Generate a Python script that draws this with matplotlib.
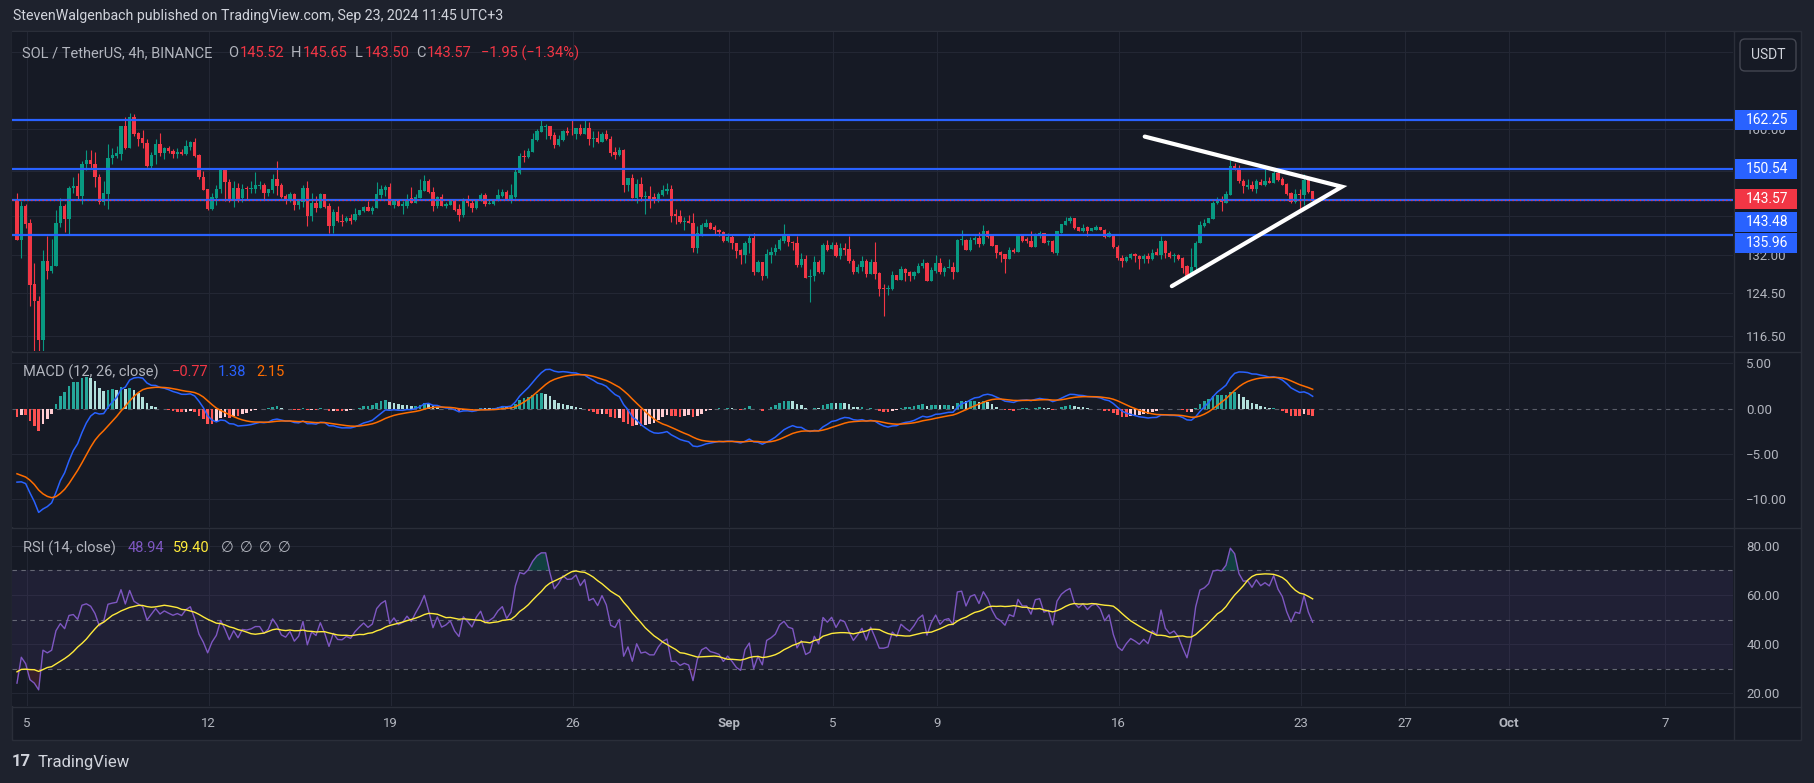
import numpy as np
import pandas as pd
import matplotlib
matplotlib.use('Agg')
import matplotlib.pyplot as plt
from matplotlib.lines import Line2D
from matplotlib.patches import Rectangle, FancyBboxPatch
from matplotlib.transforms import IdentityTransform
from matplotlib.ticker import FuncFormatter, NullLocator

plt.rcParams['font.family'] = ['Roboto', 'DejaVu Sans']

# SOL/USDT 4h candles, Binance, times in UTC+3 (first candle opens at t0)
t0 = pd.Timestamp('2024-08-04 15:00')

opens = [
    143.7, 135.1, 142.2, 138.5, 126.3, 123.0, 115.9, 130.7, 128.7, 129.8,
    138.6, 142.2, 139.4, 146.2, 146.7, 144.4, 151.6, 152.6, 151.8, 148.6,
    143.1, 144.8, 153.1, 153.6, 154.0, 160.7, 155.5, 163.1, 159.0, 157.9,
    156.7, 151.2, 153.7, 156.3, 154.2, 155.5, 154.8, 154.0, 154.6, 154.0,
    155.7, 156.8, 153.8, 148.8, 145.9, 141.5, 144.1, 145.9, 150.5, 147.6,
    143.7, 146.3, 143.9, 146.2, 145.9, 145.9, 146.6, 146.8, 145.0, 145.8,
    148.2, 146.8, 144.4, 143.7, 144.8, 142.4, 143.2, 146.2, 140.1, 142.9,
    141.9, 144.8, 142.2, 137.9, 140.9, 139.1, 139.0, 139.6, 139.2, 140.3,
    141.2, 142.1, 141.2, 141.7, 144.6, 145.8, 146.5, 142.4, 143.5, 142.3,
    142.3, 144.1, 142.8, 144.1, 145.5, 147.7, 145.4, 142.2, 144.2, 142.2,
    142.5, 143.3, 141.5, 140.3, 143.7, 143.0, 141.8, 143.5, 144.6, 142.6,
    142.6, 143.5, 144.4, 145.3, 143.6, 144.3, 149.7, 153.6, 153.4, 154.5,
    157.3, 159.4, 160.6, 160.8, 158.5, 156.1, 157.3, 159.6, 159.4, 158.8,
    160.2, 158.9, 160.3, 157.5, 157.9, 156.9, 158.8, 157.7, 154.5, 153.8,
    155.1, 146.8, 148.4, 143.9, 147.2, 144.2, 144.4, 144.2, 143.5, 144.6,
    145.5, 146.1, 140.4, 140.1, 138.9, 139.1, 138.6, 133.3, 136.1, 137.8,
    138.5, 137.7, 137.2, 136.7, 134.9, 135.6, 134.3, 132.9, 131.9, 134.3,
    135.4, 128.6, 130.5, 127.7, 132.0, 132.5, 133.1, 134.9, 135.8, 134.6,
    134.5, 129.9, 131.1, 127.6, 127.8, 130.5, 128.6, 134.0, 133.1, 134.0,
    131.7, 133.3, 133.1, 130.8, 128.6, 129.6, 130.8, 128.1, 130.5, 128.3,
    125.4, 125.2, 125.2, 127.9, 126.9, 129.1, 128.6, 127.7, 128.3, 129.7,
    130.3, 126.8, 128.7, 130.3, 128.6, 129.4, 129.6, 128.6, 135.1, 135.1,
    132.9, 135.0, 135.4, 134.1, 136.8, 135.8, 134.0, 132.5, 132.1, 131.1,
    133.0, 132.6, 135.8, 135.3, 134.9, 133.6, 136.1, 136.4, 134.6, 134.8,
    132.4, 136.5, 138.1, 139.1, 139.6, 137.7, 136.9, 137.7, 136.8, 137.2,
    137.7, 137.2, 135.6, 136.2, 133.6, 131.4, 130.7, 131.4, 132.1, 131.7,
    131.1, 131.7, 131.1, 132.5, 131.9, 134.8, 132.4, 131.7, 131.9, 131.4,
    129.7, 127.8, 129.6, 134.3, 137.9, 138.6, 139.4, 143.0, 143.4, 143.0,
    144.6, 151.2, 150.8, 147.9, 146.5, 146.8, 145.9, 147.6, 147.0, 147.7,
    147.3, 149.7, 148.2, 147.2, 145.0, 143.2, 144.9, 144.6, 148.0, 145.52,
]
highs = [
    145.2, 143.3, 142.6, 139.5, 130.4, 123.9, 132.9, 135.8, 135.3, 141.3,
    144.1, 142.6, 146.7, 148.6, 149.7, 152.4, 155.1, 155.1, 154.6, 149.5,
    147.7, 156.5, 155.5, 155.9, 160.9, 162.9, 164.0, 163.7, 159.3, 159.8,
    157.5, 154.4, 157.5, 159.0, 155.8, 156.0, 155.2, 155.5, 155.3, 157.3,
    157.1, 157.9, 154.0, 150.1, 146.0, 145.0, 147.0, 150.8, 150.8, 148.3,
    147.7, 147.4, 147.2, 146.7, 147.7, 149.9, 147.9, 147.4, 145.9, 149.3,
    152.3, 147.4, 144.8, 145.4, 145.0, 143.5, 146.8, 147.7, 145.0, 144.5,
    145.0, 144.9, 142.8, 141.5, 142.2, 140.4, 140.1, 140.4, 141.9, 141.4,
    142.2, 143.4, 142.2, 147.6, 146.8, 146.8, 147.3, 143.7, 143.6, 143.3,
    144.8, 146.4, 144.8, 148.2, 149.1, 148.2, 146.5, 144.4, 144.8, 143.2,
    143.7, 143.7, 142.6, 143.9, 144.6, 143.8, 143.7, 145.1, 145.1, 143.7,
    143.7, 145.9, 146.1, 145.8, 147.1, 150.5, 154.2, 154.9, 155.5, 159.0,
    160.0, 162.3, 161.2, 160.9, 159.2, 158.6, 159.9, 160.6, 162.2, 160.4,
    161.2, 162.3, 161.9, 159.6, 159.5, 159.4, 159.7, 158.3, 155.8, 155.7,
    155.2, 148.4, 149.5, 148.2, 148.6, 145.6, 146.6, 145.2, 145.3, 147.0,
    147.4, 147.0, 141.5, 141.3, 139.9, 140.2, 140.8, 138.0, 138.6, 139.4,
    138.9, 138.1, 137.4, 136.9, 136.4, 136.0, 134.5, 133.2, 134.9, 136.2,
    136.4, 130.9, 130.5, 133.1, 133.6, 134.1, 135.5, 138.3, 136.2, 134.8,
    135.8, 132.4, 132.0, 129.1, 131.7, 130.9, 134.4, 135.1, 134.7, 134.6,
    134.5, 134.3, 135.8, 131.2, 130.1, 131.7, 131.2, 131.2, 134.6, 128.6,
    126.2, 126.0, 128.7, 128.0, 129.7, 129.3, 128.7, 128.7, 130.4, 131.1,
    130.6, 129.5, 131.9, 131.4, 129.7, 131.2, 130.6, 135.2, 137.2, 135.3,
    135.6, 135.8, 136.7, 138.1, 137.1, 135.9, 134.0, 132.7, 132.2, 133.6,
    133.3, 136.0, 136.3, 135.6, 136.9, 136.5, 136.8, 136.5, 135.1, 135.0,
    136.8, 138.4, 139.8, 140.1, 139.7, 137.7, 138.3, 137.9, 137.6, 138.2,
    137.8, 137.4, 136.8, 136.2, 133.9, 132.0, 131.7, 132.4, 132.4, 132.0,
    132.1, 132.4, 133.1, 133.4, 135.8, 135.1, 132.7, 132.4, 132.2, 131.5,
    129.9, 133.3, 134.8, 139.0, 139.4, 139.7, 143.3, 144.2, 144.4, 145.5,
    152.6, 151.9, 151.4, 148.3, 148.2, 147.8, 148.2, 148.3, 150.7, 148.8,
    150.1, 150.1, 148.8, 147.4, 145.3, 145.9, 145.9, 149.3, 148.3, 145.65,
]
lows = [
    135.0, 131.4, 137.6, 122.1, 112.0, 110.1, 113.0, 127.2, 128.4, 129.7,
    137.8, 136.7, 136.2, 145.0, 143.7, 142.6, 150.3, 150.8, 146.5, 142.6,
    142.5, 141.5, 151.6, 153.2, 152.7, 155.3, 155.5, 158.3, 155.9, 155.4,
    151.1, 150.8, 151.6, 153.6, 152.8, 154.2, 153.1, 153.2, 153.9, 153.9,
    154.9, 153.4, 148.2, 145.7, 141.4, 141.4, 142.5, 145.2, 143.3, 143.1,
    142.1, 143.1, 143.1, 143.7, 145.0, 145.0, 145.9, 143.7, 144.4, 145.2,
    144.6, 143.9, 142.6, 143.2, 141.4, 141.5, 142.1, 137.9, 139.0, 141.0,
    141.8, 141.9, 136.4, 136.4, 138.8, 137.9, 138.8, 138.3, 139.1, 140.2,
    141.0, 141.2, 140.6, 141.7, 144.1, 144.4, 142.4, 141.8, 142.2, 140.4,
    141.9, 142.8, 142.8, 144.1, 145.5, 145.2, 141.2, 141.9, 142.2, 141.8,
    142.4, 141.2, 139.0, 139.8, 142.2, 141.0, 141.5, 143.3, 142.2, 142.6,
    142.5, 143.3, 144.3, 143.5, 142.8, 144.0, 149.5, 152.2, 153.2, 154.4,
    157.1, 159.2, 157.5, 157.5, 155.4, 155.9, 157.1, 158.6, 158.6, 157.5,
    158.6, 158.8, 156.2, 155.7, 156.6, 156.9, 157.3, 153.6, 152.8, 153.6,
    145.4, 145.5, 143.9, 142.8, 143.3, 140.6, 141.8, 143.0, 143.2, 144.4,
    144.8, 138.8, 138.3, 138.5, 137.2, 138.5, 132.6, 132.3, 135.8, 137.7,
    137.4, 136.0, 135.8, 134.6, 134.6, 133.1, 131.4, 130.2, 130.4, 132.3,
    128.0, 128.5, 127.0, 127.4, 130.3, 131.9, 132.9, 134.3, 133.8, 132.9,
    129.6, 129.6, 127.3, 122.8, 126.8, 128.4, 128.2, 132.7, 133.1, 131.5,
    131.1, 132.0, 130.4, 128.1, 128.3, 128.8, 127.6, 128.1, 127.1, 123.9,
    120.2, 124.2, 125.1, 126.9, 126.9, 126.7, 126.7, 127.1, 128.3, 129.4,
    126.8, 126.8, 128.4, 128.1, 127.8, 129.3, 127.1, 128.5, 133.9, 132.9,
    132.7, 134.1, 133.6, 133.9, 135.5, 133.7, 131.4, 130.5, 128.4, 131.1,
    132.4, 132.5, 134.7, 134.4, 133.6, 133.6, 135.5, 134.5, 134.0, 132.4,
    132.0, 136.4, 138.1, 138.6, 137.4, 136.9, 136.7, 135.8, 136.8, 137.1,
    137.1, 135.5, 135.6, 133.4, 130.9, 129.6, 130.6, 131.2, 130.6, 129.2,
    130.3, 130.4, 130.9, 131.9, 131.2, 131.4, 131.4, 130.6, 130.9, 128.4,
    127.4, 127.8, 128.6, 134.3, 137.8, 138.5, 139.4, 142.6, 141.2, 142.8,
    144.6, 150.3, 147.4, 145.2, 145.9, 145.5, 145.0, 146.8, 146.7, 147.3,
    147.3, 147.8, 146.8, 144.6, 142.8, 143.0, 141.4, 142.4, 145.2, 143.50,
]
closes = [
    135.1, 142.2, 138.3, 126.1, 122.9, 115.9, 130.7, 128.7, 129.8, 138.6,
    142.2, 139.4, 146.2, 146.7, 144.4, 151.8, 152.6, 151.6, 148.6, 143.1,
    145.0, 153.2, 153.8, 154.2, 160.8, 155.5, 163.1, 158.8, 157.7, 156.7,
    151.2, 153.7, 156.3, 154.2, 155.5, 154.7, 154.0, 154.6, 154.0, 155.9,
    156.8, 153.6, 148.7, 145.8, 141.5, 144.3, 146.1, 150.5, 147.6, 143.7,
    146.3, 143.7, 146.1, 145.9, 146.2, 146.8, 146.8, 145.0, 145.9, 148.2,
    146.7, 144.3, 143.7, 144.8, 142.4, 143.3, 146.2, 140.1, 142.9, 141.9,
    144.8, 142.0, 137.9, 140.9, 139.0, 138.9, 139.6, 139.1, 140.4, 141.3,
    142.1, 141.2, 141.8, 144.8, 145.9, 146.5, 142.4, 143.5, 142.2, 142.6,
    143.7, 142.8, 144.3, 145.7, 147.7, 145.3, 142.2, 144.2, 142.2, 142.6,
    143.3, 141.4, 140.3, 143.7, 142.8, 141.8, 143.5, 144.6, 142.6, 143.0,
    143.5, 144.6, 145.3, 143.6, 144.6, 149.8, 153.6, 153.4, 154.7, 157.5,
    159.6, 160.8, 160.8, 158.3, 156.1, 157.5, 159.6, 159.1, 159.2, 160.2,
    158.9, 160.3, 157.5, 157.9, 156.9, 158.8, 157.5, 154.2, 153.8, 155.1,
    146.8, 148.4, 143.9, 147.2, 144.2, 144.4, 143.5, 143.5, 144.8, 145.7,
    146.1, 140.1, 140.1, 138.8, 139.1, 138.6, 133.3, 136.5, 138.1, 138.5,
    137.4, 137.1, 136.7, 134.9, 135.6, 134.3, 132.7, 131.9, 134.5, 135.4,
    128.6, 130.5, 127.8, 132.1, 132.6, 133.3, 135.1, 135.8, 134.6, 134.3,
    129.9, 131.1, 127.4, 127.8, 130.5, 128.6, 134.0, 132.9, 134.0, 131.7,
    133.3, 132.9, 130.7, 128.6, 129.6, 130.8, 128.1, 130.5, 128.1, 125.2,
    125.2, 125.4, 127.9, 126.9, 129.1, 128.3, 127.7, 128.6, 129.8, 130.4,
    126.8, 128.9, 130.3, 128.6, 129.4, 129.6, 128.6, 135.1, 135.3, 132.9,
    135.1, 135.5, 134.1, 136.8, 135.7, 133.8, 132.4, 131.9, 131.1, 132.9,
    132.6, 135.8, 134.8, 134.8, 133.6, 136.2, 136.4, 134.5, 134.8, 132.6,
    136.8, 138.3, 139.1, 139.6, 137.6, 136.9, 137.6, 136.8, 137.5, 137.7,
    137.1, 135.6, 136.4, 133.6, 131.4, 130.7, 131.5, 132.1, 131.7, 131.2,
    131.7, 131.1, 132.4, 131.9, 134.8, 132.4, 131.6, 131.9, 131.1, 129.4,
    127.6, 129.6, 134.5, 138.1, 138.6, 139.6, 143.0, 143.3, 143.2, 144.8,
    151.2, 150.5, 147.8, 146.7, 146.8, 145.9, 147.8, 147.0, 147.7, 147.3,
    149.7, 148.0, 147.0, 144.8, 143.1, 144.8, 144.6, 148.0, 145.4, 143.57,
]
# closes before the visible window (Jul 28 - Aug 4), they only feed MACD / RSI
warmup_closes = [
    183, 185, 186, 188,
    190, 192, 189, 186, 184, 183,
    181, 180, 178, 180, 179, 178,
    180, 182, 181, 178, 175, 174,
    172, 168, 165, 166, 169, 170,
    168, 163, 160, 156, 160, 157,
    153, 156, 151, 148, 152, 149,
    151, 147, 149, 145,
]

levels = [162.25, 150.54, 143.48, 135.96]
last_close = 143.57
tri_times = ['2024-09-17 00:00', '2024-09-24 14:00', '2024-09-18 01:00']
tri_prices = [158.2, 146.5, 125.8]

date_ticks = ['2024-08-05', '2024-08-12', '2024-08-19', '2024-08-26', '2024-09-01',
              '2024-09-05', '2024-09-09', '2024-09-16', '2024-09-23', '2024-09-27',
              '2024-10-01', '2024-10-07']
date_labels = ['5', '12', '19', '26', 'Sep', '5', '9', '16', '23', '27', 'Oct', '7']
price_ticks = [116.5, 124.5, 132.0, 140.0, 150.0, 160.0, 180.0]
hidden_price_ticks = [140.0, 150.0, 180.0]   # covered by the price labels / USDT button
macd_ticks = [-10, -5, 5]
rsi_ticks = [20, 40, 60, 80]

# colours
OUTER = '#1e222d'
BG = '#161a25'
GRID = '#232734'
BORDER = '#2a2e39'
TXT = '#b2b5be'
UP = '#089981'
DN = '#f23645'
BLUE = '#2962ff'

O = np.array(opens); Hh = np.array(highs); Lw = np.array(lows); C = np.array(closes)
x = np.arange(len(C))


def tx(ts):
    return (pd.Timestamp(ts) - t0) / pd.Timedelta('4h')


# indicators
allc = pd.Series(warmup_closes + closes, dtype=float)
ema12 = allc.ewm(span=12, adjust=False).mean()
ema26 = allc.ewm(span=26, adjust=False).mean()
macd = ema12 - ema26
signal = macd.ewm(span=9, adjust=False).mean()
hist = macd - signal
hist_prev = hist.shift(1)
delta = allc.diff().fillna(0)
gain = delta.clip(lower=0).ewm(alpha=1 / 14, adjust=False).mean()
loss = (-delta.clip(upper=0)).ewm(alpha=1 / 14, adjust=False).mean()
rsi = 100 - 100 / (1 + gain / loss)
rsi_ma = rsi.rolling(14).mean()
n0 = len(warmup_closes)
macd_v = macd.values[n0:]
sig_v = signal.values[n0:]
hist_v = hist.values[n0:]
hprev = hist_prev.values[n0:]
rsi_v = rsi.values[n0:]
rsima_v = rsi_ma.values[n0:]

# layout (pixels)
W, H = 1814, 783
fig = plt.figure(figsize=(W / 100, H / 100), dpi=100, facecolor=OUTER)
PIX = IdentityTransform()


def rect(left, top, right, bottom):
    return [left / W, 1 - bottom / H, (right - left) / W, (bottom - top) / H]


def T(px, py, s, **kw):
    kw.setdefault('fontsize', 10.5)
    kw.setdefault('va', 'center')
    return fig.text(px, H - py, s, transform=PIX, **kw)


def hline(x0, x1, y, color=BORDER, lw=1, z=3):
    fig.add_artist(Line2D([x0, x1], [H - y, H - y], color=color, lw=lw, transform=PIX, zorder=z))


def vline(xp, y0, y1, color=BORDER, lw=1, z=3):
    fig.add_artist(Line2D([xp, xp], [H - y0, H - y1], color=color, lw=lw, transform=PIX, zorder=z))


fig.add_artist(Rectangle((12, H - 740), 1789, 709, transform=PIX, facecolor=BG,
                         edgecolor=BORDER, lw=1, zorder=-10))

LX, RX = 12, 1733
ax_p = fig.add_axes(rect(LX, 32, RX, 351))
ax_m = fig.add_axes(rect(LX, 352, RX, 527))
ax_r = fig.add_axes(rect(LX, 528, RX, 706))

xt = [tx(d) for d in date_ticks]
for ax in (ax_p, ax_m, ax_r):
    ax.set_facecolor(BG)
    for s in ax.spines.values():
        s.set_visible(False)
    ax.set_xlim(-1.15, 396.0)
    ax.set_xticks(xt)
    ax.grid(axis='x', color=GRID, lw=0.8)
    ax.set_axisbelow(True)
    ax.yaxis.tick_right()
    ax.tick_params(axis='y', length=0, pad=9.5, labelcolor=TXT, labelsize=9.5)
    ax.tick_params(axis='x', length=0)
ax_p.tick_params(axis='x', labelbottom=False)
ax_m.tick_params(axis='x', labelbottom=False)
ax_r.set_xticklabels(date_labels)
ax_r.tick_params(axis='x', pad=8, labelcolor=TXT, labelsize=9.5)
for lab in ax_r.get_xticklabels():
    if lab.get_text() in ('Sep', 'Oct'):
        lab.set_fontweight('bold')


def fmt(v, p=None):
    return f'{v:.2f}'.replace('-', '\u2212')


def price_fmt(v, p=None):
    if any(abs(v - h) < 1e-6 for h in hidden_price_ticks):
        return ''
    return fmt(v)


# price pane
ax_p.set_yscale('log')
ax_p.set_ylim(113.9, 185.7)
ax_p.set_yticks(price_ticks)
ax_p.yaxis.set_major_formatter(FuncFormatter(price_fmt))
ax_p.yaxis.set_minor_locator(NullLocator())
for t in price_ticks:
    ax_p.axhline(t, color=GRID, lw=0.8, zorder=0)

cols = np.where(C >= O, UP, DN)
ax_p.vlines(x, Lw, Hh, colors=cols, lw=0.8, zorder=3)
ax_p.bar(x, np.maximum(np.abs(C - O), 0.12), bottom=np.minimum(O, C), width=0.7,
         color=cols, linewidth=0, zorder=3)
for lv in levels:
    ax_p.axhline(lv, color=BLUE, lw=1.6, zorder=4)
ax_p.axhline(last_close, color=DN, lw=0.9, ls=(0, (1, 2)), zorder=5)
ax_p.plot([tx(tri_times[0]), tx(tri_times[1]), tx(tri_times[2])], tri_prices,
          color='white', lw=3.0, solid_capstyle='round', solid_joinstyle='miter', zorder=6)

# MACD pane
ax_m.set_ylim(-13.06, 6.24)
ax_m.set_yticks(macd_ticks + [0])
ax_m.yaxis.set_major_formatter(FuncFormatter(fmt))
for t in macd_ticks:
    ax_m.axhline(t, color=GRID, lw=0.8, zorder=0)
ax_m.axhline(0, color='#787b86', lw=0.8, ls=(0, (4, 4)), alpha=0.7, zorder=0)
hcols = np.where(hist_v >= 0,
                 np.where(hist_v > hprev, '#26a69a', '#b2dfdb'),
                 np.where(hist_v > hprev, '#ffcdd2', '#ff5252'))
ax_m.bar(x, hist_v, width=0.6, color=hcols, linewidth=0, zorder=2)
ax_m.plot(x, macd_v, color=BLUE, lw=1.1, zorder=3)
ax_m.plot(x, sig_v, color='#ff6d00', lw=1.1, zorder=3)

# RSI pane
ax_r.set_ylim(14.8, 87.3)
ax_r.set_yticks(rsi_ticks)
ax_r.yaxis.set_major_formatter(FuncFormatter(fmt))
for t in rsi_ticks:
    ax_r.axhline(t, color=GRID, lw=0.8, zorder=0)
ax_r.axhspan(30, 70, color='#7e57c2', alpha=0.1, lw=0, zorder=1)
for lv in (70, 50, 30):
    ax_r.axhline(lv, color='#787b86', lw=0.8, ls=(0, (4, 4)), alpha=0.8, zorder=1)
ax_r.fill_between(x, 70, rsi_v, where=rsi_v >= 70, interpolate=True, color=UP, alpha=0.3, lw=0, zorder=2)
ax_r.fill_between(x, 30, rsi_v, where=rsi_v <= 30, interpolate=True, color=DN, alpha=0.15, lw=0, zorder=2)
ax_r.plot(x, rsi_v, color='#7e57c2', lw=1.0, zorder=3)
ax_r.plot(x, rsima_v, color='#ffeb3b', lw=1.0, zorder=3)

# frame separators
hline(12, 1801, 351.5)
hline(12, 1801, 527.5)
hline(12, 1801, 706.5)
vline(1733.5, 31, 740)


# price scale labels
def price_box(price, text, color, dy=0):
    yd = ax_p.transData.transform((0, price))[1] + dy
    fig.add_artist(Rectangle((1735, yd - 10), 62, 20, transform=PIX, facecolor=color,
                             edgecolor='none', zorder=8))
    fig.text(1767, yd, text, transform=PIX, color='white', fontsize=10,
             ha='center', va='center', zorder=9)


price_box(levels[0], f'{levels[0]:.2f}', BLUE)
price_box(levels[1], f'{levels[1]:.2f}', BLUE)
price_box(levels[2], f'{levels[2]:.2f}', BLUE, dy=-22)
price_box(levels[3], f'{levels[3]:.2f}', BLUE, dy=-8)
price_box(last_close, f'{last_close:.2f}', DN, dy=1)

fig.add_artist(FancyBboxPatch((1742, H - 69), 52, 28, boxstyle='round,pad=2,rounding_size=5',
                              transform=PIX, facecolor=BG, edgecolor='#434651', lw=1, zorder=8))
T(1768, 55, 'USDT', color='#d1d4dc', ha='center', fontsize=10, zorder=9)

# texts
T(13, 16, 'StevenWalgenbach published on TradingView.com, Sep 23, 2024 11:45 UTC+3',
  color='#d1d4dc', fontsize=10.2)
T(22, 53, 'SOL / TetherUS, 4h, BINANCE', color=TXT)
for lx, lab, vx, val in [(228, 'O', 240, '145.52'), (291, 'H', 303, '145.65'),
                         (355, 'L', 365, '143.50'), (416, 'C', 427, '143.57')]:
    T(lx, 53, lab, color=TXT)
    T(vx, 53, val, color=DN)
T(481, 53, '\u22121.95 (\u22121.34%)', color=DN)

T(23, 372, 'MACD (12, 26, close)', color=TXT)
T(172, 372, '\u22120.77', color=DN)
T(218, 372, '1.38', color=BLUE)
T(256, 372, '2.15', color='#ff6d00')

T(23, 548, 'RSI (14, close)', color=TXT)
T(128, 548, '48.94', color='#7e57c2')
T(173, 548, '59.40', color='#ffeb3b')
for px_ in (221, 240, 259, 278):
    T(px_, 548, '\u2205', color=TXT)

T(12, 762, '17', color='#d1d4dc', fontweight='bold', fontsize=12)
T(38, 762, 'TradingView', color='#d1d4dc', fontsize=12)

fig.savefig('out.png', dpi=100, facecolor=OUTER)
